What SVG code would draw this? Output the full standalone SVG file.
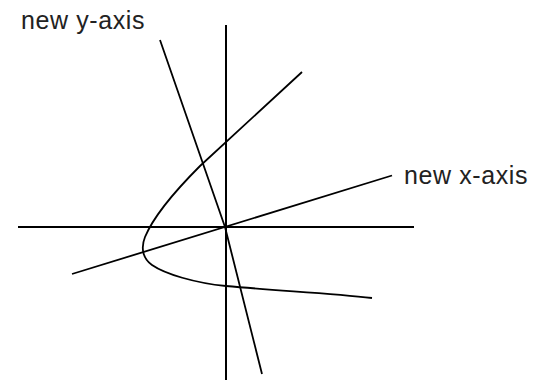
<svg xmlns="http://www.w3.org/2000/svg" width="542" height="380" viewBox="0 0 542 380">
<style>
.ln{fill:none;stroke:#000;stroke-width:2;stroke-linecap:butt;stroke-linejoin:round}
.sl{fill:none;stroke:#000;stroke-width:1.8;stroke-linejoin:round}
.lbl{font-family:"Liberation Sans",Arial,sans-serif;font-size:25px;letter-spacing:0.6px;fill:#222}
</style>
<rect width="542" height="380" fill="#fff"/>
<g id="axes">
<line id="x-axis" class="ln" x1="18" y1="227" x2="414" y2="227"/>
<line id="y-axis" class="ln" x1="226" y1="25" x2="226" y2="380"/>
</g>
<g id="new-axes">
<line id="new-x-axis" class="sl" x1="72" y1="274" x2="392" y2="175.5"/>
<polyline id="new-y-axis" class="sl" points="160,40 225,227 262,374"/>
</g>
<g id="parabola">
<path class="sl" d="M302,72 L200,166 C178,188 155,213 145,237 C141,247 142,258 152,265 C165,274 195,283 226,286 C280,291 330,293 372,298"/>
</g>
<g id="labels">
<text class="lbl" x="21" y="29">new y-axis</text>
<text class="lbl" x="404" y="183.5">new x-axis</text>
</g>
</svg>
